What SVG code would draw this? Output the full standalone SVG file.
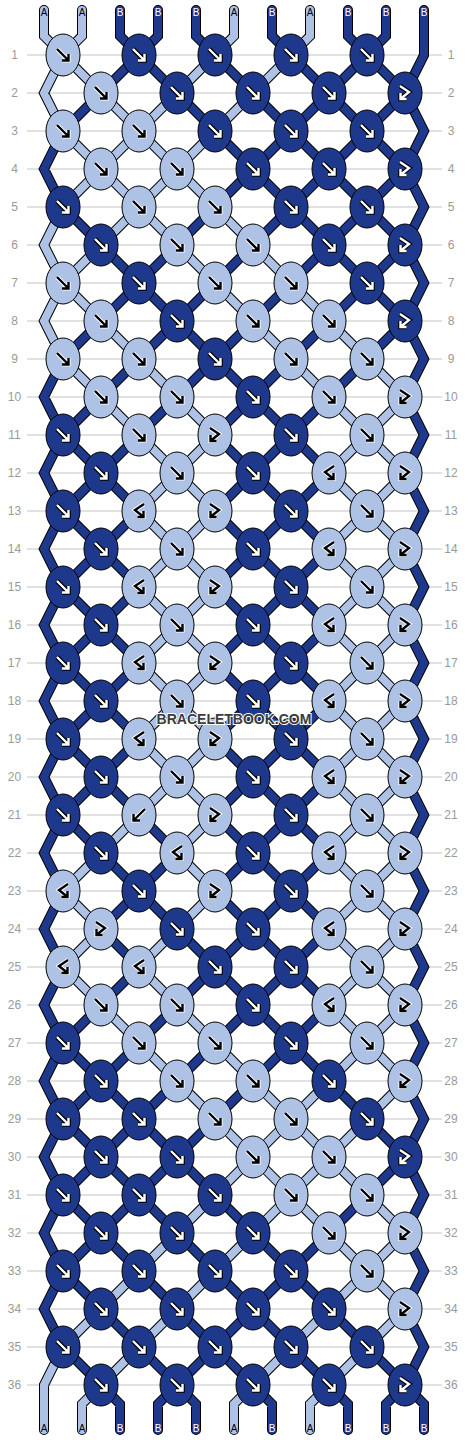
<svg xmlns="http://www.w3.org/2000/svg" xmlns:xlink="http://www.w3.org/1999/xlink" width="468" height="1440" viewBox="0 0 468 1440">
<style>
.grid{stroke:#c4c4c4;stroke-width:1}
.num{font-family:"Liberation Sans",Arial,sans-serif;font-size:12px;fill:#9a9a9a;text-anchor:middle}
.so{fill:none;stroke:#000;stroke-width:10;stroke-linejoin:miter;stroke-linecap:round}
.sa{fill:none;stroke:#AEC2E6;stroke-width:8;stroke-linejoin:miter;stroke-linecap:round}
.sb{fill:none;stroke:#1E398C;stroke-width:8;stroke-linejoin:miter;stroke-linecap:round}
.el{fill:#AEC2E6;stroke:#000;stroke-width:1}
.ed{fill:#1E398C;stroke:#000;stroke-width:1}
.hw{fill:none;stroke:#fff;stroke-width:4.2;stroke-linejoin:miter}
.ab{fill:none;stroke:#000;stroke-width:2.4;stroke-linejoin:miter}
.hb{fill:none;stroke:#000;stroke-width:4.6;stroke-linejoin:miter}
.aw{fill:none;stroke:#fff;stroke-width:2.4;stroke-linejoin:miter}
.lbl{font-family:"Liberation Sans",Arial,sans-serif;font-size:10px;text-anchor:middle}
.la{fill:#000}
.lb{fill:#fff}
.wm{font-family:"Liberation Sans",Arial,sans-serif;font-size:14px;font-weight:bold;fill:#3c3c3c;stroke:#fff;stroke-width:2;paint-order:stroke;text-anchor:middle}
</style>
<defs>
<ellipse id="eL" rx="17" ry="21" class="el"/>
<ellipse id="eD" rx="17" ry="21" class="ed"/>
<path id="aF" d="M-6,-6L5,5M5.5,-1V5.5H-1"/>
<path id="aB" d="M6,-6L-5,5M-5.5,-1V5.5H1"/>
<path id="aFB" d="M-5,-7L4,-1L-4,5.5M-4.5,0V6H1.5"/>
<path id="aBF" d="M5,-7L-4,-1L4,5.5M4.5,0V6H-1.5"/>
<g id="LF"><use href="#eL"/><use href="#aF" class="hw"/><use href="#aF" class="ab"/></g>
<g id="LB"><use href="#eL"/><use href="#aB" class="hw"/><use href="#aB" class="ab"/></g>
<g id="LFB"><use href="#eL"/><use href="#aFB" class="hw"/><use href="#aFB" class="ab"/></g>
<g id="LBF"><use href="#eL"/><use href="#aBF" class="hw"/><use href="#aBF" class="ab"/></g>
<g id="DF"><use href="#eD"/><use href="#aF" class="hb"/><use href="#aF" class="aw"/></g>
<g id="DFB"><use href="#eD"/><use href="#aFB" class="hb"/><use href="#aFB" class="aw"/></g>
<path id="PA" d="M44,10V36L63,55M82,10V36L63,55M234,10V36L215,55M310,10V36L291,55
M63,55L44,93L63,131M63,207L44,245L63,283L44,321L63,359M63,1347L44,1385V1430
M101,1385L82,1404V1430M253,1385L234,1404V1430M329,1385L310,1404V1430
M63,55l38,38M177,93l38,-38M253,93l38,-38
M101,93l38,38l38,-38M215,131l38,-38
M63,131l38,38l38,-38l38,38l38,-38
M63,207l38,-38l38,38l38,-38l38,38
M101,245l38,-38l38,38M215,207l38,38
M63,283l38,-38M177,245l38,38M253,245l38,38
M63,283l38,38M215,283l38,38M291,283l38,38
M101,321l38,38M253,321l38,38M329,321l38,38
M63,359l38,38M139,359l38,38M291,359l38,38M367,359l38,38
M101,397l38,38M177,397l38,38M329,397l38,38l38,-38
M139,435l38,38l38,-38M329,473l38,-38l38,38
M139,511l38,-38l38,38M329,473l38,38l38,-38
M139,511l38,38l38,-38M329,549l38,-38l38,38
M139,587l38,-38l38,38M329,549l38,38l38,-38
M139,587l38,38l38,-38M329,625l38,-38l38,38
M139,663l38,-38l38,38M329,625l38,38l38,-38
M139,663l38,38l38,-38M329,701l38,-38l38,38
M139,739l38,-38l38,38M329,701l38,38l38,-38
M139,739l38,38l38,-38M329,777l38,-38l38,38
M139,815l38,-38l38,38M329,777l38,38l38,-38
M101,853l38,-38M177,853l38,-38M329,853l38,-38l38,38
M63,891l38,-38M177,853l38,38M329,853l38,38l38,-38
M63,891l38,38M177,929l38,-38M329,929l38,-38l38,38
M63,967l38,-38M139,967l38,-38M329,929l38,38l38,-38
M63,967l38,38M139,967l38,38M329,1005l38,-38l38,38
M101,1005l38,38M177,1005l38,38M329,1005l38,38l38,-38
M139,1043l38,38M215,1043l38,38M329,1081l38,-38l38,38
M177,1081l38,38M253,1081l38,38l38,-38M367,1119l38,-38
M215,1119l38,38l38,-38l38,38l38,-38
M215,1195l38,-38l38,38l38,-38l38,38
M177,1233l38,-38M253,1233l38,-38l38,38M367,1195l38,38
M139,1271l38,-38M215,1271l38,-38M329,1233l38,38l38,-38
M101,1309l38,-38M177,1309l38,-38M329,1309l38,-38l38,38
M63,1347l38,-38M139,1347l38,-38M291,1347l38,-38M367,1347l38,-38
M101,1385l38,-38M253,1385l38,-38M329,1385l38,-38"/>
<path id="PB" d="M120,10V36L139,55M158,10V36L139,55M196,10V36L215,55M272,10V36L291,55M348,10V36L367,55M386,10V36L367,55
M424,10V55L405,93L424,131L405,169L424,207L405,245L424,283L405,321L424,359L405,397L424,435L405,473L424,511L405,549L424,587L405,625L424,663L405,701L424,739L405,777L424,815L405,853L424,891L405,929L424,967L405,1005L424,1043L405,1081L424,1119L405,1157L424,1195L405,1233L424,1271L405,1309L424,1347L405,1385L424,1404V1430
M63,131L44,169L63,207
M63,359L44,397L63,435L44,473L63,511L44,549L63,587L44,625L63,663L44,701L63,739L44,777L63,815L44,853L63,891L44,929L63,967L44,1005L63,1043L44,1081L63,1119L44,1157L63,1195L44,1233L63,1271L44,1309L63,1347
M101,1385L120,1404V1430M177,1385L158,1404V1430M177,1385L196,1404V1430M253,1385L272,1404V1430M329,1385L348,1404V1430M405,1385L386,1404V1430
M101,93l38,-38l38,38M215,55l38,38M291,55l38,38l38,-38l38,38
M63,131l38,-38M177,93l38,38M253,93l38,38l38,-38l38,38l38,-38
M215,131l38,38l38,-38l38,38l38,-38l38,38
M215,207l38,-38l38,38l38,-38l38,38l38,-38
M63,207l38,38M177,245l38,-38M253,245l38,-38l38,38l38,-38l38,38
M101,245l38,38l38,-38M215,283l38,-38M291,283l38,-38l38,38l38,-38
M101,321l38,-38l38,38l38,-38M253,321l38,-38M329,321l38,-38l38,38
M63,359l38,-38M139,359l38,-38l38,38l38,-38M291,359l38,-38M367,359l38,-38
M101,397l38,-38M177,397l38,-38l38,38l38,-38M329,397l38,-38
M63,435l38,-38M139,435l38,-38M215,435l38,-38l38,38l38,-38
M63,435l38,38l38,-38M215,435l38,38l38,-38l38,38
M63,511l38,-38l38,38M215,511l38,-38l38,38l38,-38
M63,511l38,38l38,-38M215,511l38,38l38,-38l38,38
M63,587l38,-38l38,38M215,587l38,-38l38,38l38,-38
M63,587l38,38l38,-38M215,587l38,38l38,-38l38,38
M63,663l38,-38l38,38M215,663l38,-38l38,38l38,-38
M63,663l38,38l38,-38M215,663l38,38l38,-38l38,38
M63,739l38,-38l38,38M215,739l38,-38l38,38l38,-38
M63,739l38,38l38,-38M215,739l38,38l38,-38l38,38
M63,815l38,-38l38,38M215,815l38,-38l38,38l38,-38
M63,815l38,38M139,815l38,38M215,815l38,38l38,-38l38,38
M101,853l38,38l38,-38M215,891l38,-38l38,38l38,-38
M101,929l38,-38l38,38M215,891l38,38l38,-38l38,38
M101,929l38,38M177,929l38,38l38,-38l38,38l38,-38
M101,1005l38,-38M177,1005l38,-38l38,38l38,-38l38,38
M63,1043l38,-38M139,1043l38,-38M215,1043l38,-38l38,38l38,-38
M63,1043l38,38l38,-38M177,1081l38,-38M253,1081l38,-38l38,38
M63,1119l38,-38l38,38l38,-38M215,1119l38,-38M329,1081l38,38
M63,1119l38,38l38,-38l38,38l38,-38M367,1119l38,38
M63,1195l38,-38l38,38l38,-38l38,38M367,1195l38,-38
M63,1195l38,38l38,-38l38,38M215,1195l38,38M329,1233l38,-38
M63,1271l38,-38l38,38M177,1233l38,38M253,1233l38,38l38,-38
M63,1271l38,38M139,1271l38,38M215,1271l38,38l38,-38l38,38
M101,1309l38,38M177,1309l38,38l38,-38l38,38M329,1309l38,38
M63,1347l38,38M139,1347l38,38l38,-38l38,38M291,1347l38,38M367,1347l38,38"/>
</defs>
<rect width="468" height="1440" fill="#fff"/>
<g id="grid" class="grid">
<line x1="27" y1="55" x2="442" y2="55"/><line x1="27" y1="93" x2="442" y2="93"/><line x1="27" y1="131" x2="442" y2="131"/><line x1="27" y1="169" x2="442" y2="169"/><line x1="27" y1="207" x2="442" y2="207"/><line x1="27" y1="245" x2="442" y2="245"/><line x1="27" y1="283" x2="442" y2="283"/><line x1="27" y1="321" x2="442" y2="321"/><line x1="27" y1="359" x2="442" y2="359"/><line x1="27" y1="397" x2="442" y2="397"/><line x1="27" y1="435" x2="442" y2="435"/><line x1="27" y1="473" x2="442" y2="473"/><line x1="27" y1="511" x2="442" y2="511"/><line x1="27" y1="549" x2="442" y2="549"/><line x1="27" y1="587" x2="442" y2="587"/><line x1="27" y1="625" x2="442" y2="625"/><line x1="27" y1="663" x2="442" y2="663"/><line x1="27" y1="701" x2="442" y2="701"/><line x1="27" y1="739" x2="442" y2="739"/><line x1="27" y1="777" x2="442" y2="777"/><line x1="27" y1="815" x2="442" y2="815"/><line x1="27" y1="853" x2="442" y2="853"/><line x1="27" y1="891" x2="442" y2="891"/><line x1="27" y1="929" x2="442" y2="929"/><line x1="27" y1="967" x2="442" y2="967"/><line x1="27" y1="1005" x2="442" y2="1005"/><line x1="27" y1="1043" x2="442" y2="1043"/><line x1="27" y1="1081" x2="442" y2="1081"/><line x1="27" y1="1119" x2="442" y2="1119"/><line x1="27" y1="1157" x2="442" y2="1157"/><line x1="27" y1="1195" x2="442" y2="1195"/><line x1="27" y1="1233" x2="442" y2="1233"/><line x1="27" y1="1271" x2="442" y2="1271"/><line x1="27" y1="1309" x2="442" y2="1309"/><line x1="27" y1="1347" x2="442" y2="1347"/><line x1="27" y1="1385" x2="442" y2="1385"/>
</g>
<g id="rownums" class="num">
<text x="14.5" y="59">1</text><text x="451" y="59">1</text>
<text x="14.5" y="97">2</text><text x="451" y="97">2</text>
<text x="14.5" y="135">3</text><text x="451" y="135">3</text>
<text x="14.5" y="173">4</text><text x="451" y="173">4</text>
<text x="14.5" y="211">5</text><text x="451" y="211">5</text>
<text x="14.5" y="249">6</text><text x="451" y="249">6</text>
<text x="14.5" y="287">7</text><text x="451" y="287">7</text>
<text x="14.5" y="325">8</text><text x="451" y="325">8</text>
<text x="14.5" y="363">9</text><text x="451" y="363">9</text>
<text x="14.5" y="401">10</text><text x="451" y="401">10</text>
<text x="14.5" y="439">11</text><text x="451" y="439">11</text>
<text x="14.5" y="477">12</text><text x="451" y="477">12</text>
<text x="14.5" y="515">13</text><text x="451" y="515">13</text>
<text x="14.5" y="553">14</text><text x="451" y="553">14</text>
<text x="14.5" y="591">15</text><text x="451" y="591">15</text>
<text x="14.5" y="629">16</text><text x="451" y="629">16</text>
<text x="14.5" y="667">17</text><text x="451" y="667">17</text>
<text x="14.5" y="705">18</text><text x="451" y="705">18</text>
<text x="14.5" y="743">19</text><text x="451" y="743">19</text>
<text x="14.5" y="781">20</text><text x="451" y="781">20</text>
<text x="14.5" y="819">21</text><text x="451" y="819">21</text>
<text x="14.5" y="857">22</text><text x="451" y="857">22</text>
<text x="14.5" y="895">23</text><text x="451" y="895">23</text>
<text x="14.5" y="933">24</text><text x="451" y="933">24</text>
<text x="14.5" y="971">25</text><text x="451" y="971">25</text>
<text x="14.5" y="1009">26</text><text x="451" y="1009">26</text>
<text x="14.5" y="1047">27</text><text x="451" y="1047">27</text>
<text x="14.5" y="1085">28</text><text x="451" y="1085">28</text>
<text x="14.5" y="1123">29</text><text x="451" y="1123">29</text>
<text x="14.5" y="1161">30</text><text x="451" y="1161">30</text>
<text x="14.5" y="1199">31</text><text x="451" y="1199">31</text>
<text x="14.5" y="1237">32</text><text x="451" y="1237">32</text>
<text x="14.5" y="1275">33</text><text x="451" y="1275">33</text>
<text x="14.5" y="1313">34</text><text x="451" y="1313">34</text>
<text x="14.5" y="1351">35</text><text x="451" y="1351">35</text>
<text x="14.5" y="1389">36</text><text x="451" y="1389">36</text>
</g>
<g id="connectors">
<use href="#PA" class="so"/><use href="#PB" class="so"/>
<use href="#PA" class="sa"/><use href="#PB" class="sb"/>
</g>
<g id="string-labels" class="lbl">
<text class="la" x="44" y="16">A</text><text class="la" x="82" y="16">A</text><text class="lb" x="120" y="16">B</text><text class="lb" x="158" y="16">B</text><text class="lb" x="196" y="16">B</text><text class="la" x="234" y="16">A</text><text class="lb" x="272" y="16">B</text><text class="la" x="310" y="16">A</text><text class="lb" x="348" y="16">B</text><text class="lb" x="386" y="16">B</text><text class="lb" x="424" y="16">B</text>
<text class="la" x="44" y="1432">A</text><text class="la" x="82" y="1432">A</text><text class="lb" x="120" y="1432">B</text><text class="lb" x="158" y="1432">B</text><text class="lb" x="196" y="1432">B</text><text class="la" x="234" y="1432">A</text><text class="lb" x="272" y="1432">B</text><text class="la" x="310" y="1432">A</text><text class="lb" x="348" y="1432">B</text><text class="lb" x="386" y="1432">B</text><text class="lb" x="424" y="1432">B</text>
</g>
<g id="knots">
<g id="k1-1"><use href="#LF" x="63" y="55"/></g><g id="k1-2"><use href="#DF" x="139" y="55"/></g><g id="k1-3"><use href="#DF" x="215" y="55"/></g><g id="k1-4"><use href="#DF" x="291" y="55"/></g><g id="k1-5"><use href="#DF" x="367" y="55"/></g>
<g id="k2-1"><use href="#LF" x="101" y="93"/></g><g id="k2-2"><use href="#DF" x="177" y="93"/></g><g id="k2-3"><use href="#DF" x="253" y="93"/></g><g id="k2-4"><use href="#DF" x="329" y="93"/></g><g id="k2-5"><use href="#DFB" x="405" y="93"/></g>
<g id="k3-1"><use href="#LF" x="63" y="131"/></g><g id="k3-2"><use href="#LF" x="139" y="131"/></g><g id="k3-3"><use href="#DF" x="215" y="131"/></g><g id="k3-4"><use href="#DF" x="291" y="131"/></g><g id="k3-5"><use href="#DF" x="367" y="131"/></g>
<g id="k4-1"><use href="#LF" x="101" y="169"/></g><g id="k4-2"><use href="#LF" x="177" y="169"/></g><g id="k4-3"><use href="#DF" x="253" y="169"/></g><g id="k4-4"><use href="#DF" x="329" y="169"/></g><g id="k4-5"><use href="#DFB" x="405" y="169"/></g>
<g id="k5-1"><use href="#DF" x="63" y="207"/></g><g id="k5-2"><use href="#LF" x="139" y="207"/></g><g id="k5-3"><use href="#LF" x="215" y="207"/></g><g id="k5-4"><use href="#DF" x="291" y="207"/></g><g id="k5-5"><use href="#DF" x="367" y="207"/></g>
<g id="k6-1"><use href="#DF" x="101" y="245"/></g><g id="k6-2"><use href="#LF" x="177" y="245"/></g><g id="k6-3"><use href="#LF" x="253" y="245"/></g><g id="k6-4"><use href="#DF" x="329" y="245"/></g><g id="k6-5"><use href="#DFB" x="405" y="245"/></g>
<g id="k7-1"><use href="#LF" x="63" y="283"/></g><g id="k7-2"><use href="#DF" x="139" y="283"/></g><g id="k7-3"><use href="#LF" x="215" y="283"/></g><g id="k7-4"><use href="#LF" x="291" y="283"/></g><g id="k7-5"><use href="#DF" x="367" y="283"/></g>
<g id="k8-1"><use href="#LF" x="101" y="321"/></g><g id="k8-2"><use href="#DF" x="177" y="321"/></g><g id="k8-3"><use href="#LF" x="253" y="321"/></g><g id="k8-4"><use href="#LF" x="329" y="321"/></g><g id="k8-5"><use href="#DFB" x="405" y="321"/></g>
<g id="k9-1"><use href="#LF" x="63" y="359"/></g><g id="k9-2"><use href="#LF" x="139" y="359"/></g><g id="k9-3"><use href="#DF" x="215" y="359"/></g><g id="k9-4"><use href="#LF" x="291" y="359"/></g><g id="k9-5"><use href="#LF" x="367" y="359"/></g>
<g id="k10-1"><use href="#LF" x="101" y="397"/></g><g id="k10-2"><use href="#LF" x="177" y="397"/></g><g id="k10-3"><use href="#DF" x="253" y="397"/></g><g id="k10-4"><use href="#LF" x="329" y="397"/></g><g id="k10-5"><use href="#LFB" x="405" y="397"/></g>
<g id="k11-1"><use href="#DF" x="63" y="435"/></g><g id="k11-2"><use href="#LF" x="139" y="435"/></g><g id="k11-3"><use href="#LFB" x="215" y="435"/></g><g id="k11-4"><use href="#DF" x="291" y="435"/></g><g id="k11-5"><use href="#LF" x="367" y="435"/></g>
<g id="k12-1"><use href="#DF" x="101" y="473"/></g><g id="k12-2"><use href="#LF" x="177" y="473"/></g><g id="k12-3"><use href="#DF" x="253" y="473"/></g><g id="k12-4"><use href="#LBF" x="329" y="473"/></g><g id="k12-5"><use href="#LFB" x="405" y="473"/></g>
<g id="k13-1"><use href="#DF" x="63" y="511"/></g><g id="k13-2"><use href="#LBF" x="139" y="511"/></g><g id="k13-3"><use href="#LFB" x="215" y="511"/></g><g id="k13-4"><use href="#DF" x="291" y="511"/></g><g id="k13-5"><use href="#LF" x="367" y="511"/></g>
<g id="k14-1"><use href="#DF" x="101" y="549"/></g><g id="k14-2"><use href="#LF" x="177" y="549"/></g><g id="k14-3"><use href="#DF" x="253" y="549"/></g><g id="k14-4"><use href="#LBF" x="329" y="549"/></g><g id="k14-5"><use href="#LFB" x="405" y="549"/></g>
<g id="k15-1"><use href="#DF" x="63" y="587"/></g><g id="k15-2"><use href="#LBF" x="139" y="587"/></g><g id="k15-3"><use href="#LFB" x="215" y="587"/></g><g id="k15-4"><use href="#DF" x="291" y="587"/></g><g id="k15-5"><use href="#LF" x="367" y="587"/></g>
<g id="k16-1"><use href="#DF" x="101" y="625"/></g><g id="k16-2"><use href="#LF" x="177" y="625"/></g><g id="k16-3"><use href="#DF" x="253" y="625"/></g><g id="k16-4"><use href="#LBF" x="329" y="625"/></g><g id="k16-5"><use href="#LFB" x="405" y="625"/></g>
<g id="k17-1"><use href="#DF" x="63" y="663"/></g><g id="k17-2"><use href="#LBF" x="139" y="663"/></g><g id="k17-3"><use href="#LFB" x="215" y="663"/></g><g id="k17-4"><use href="#DF" x="291" y="663"/></g><g id="k17-5"><use href="#LF" x="367" y="663"/></g>
<g id="k18-1"><use href="#DF" x="101" y="701"/></g><g id="k18-2"><use href="#LF" x="177" y="701"/></g><g id="k18-3"><use href="#DF" x="253" y="701"/></g><g id="k18-4"><use href="#LBF" x="329" y="701"/></g><g id="k18-5"><use href="#LFB" x="405" y="701"/></g>
<g id="k19-1"><use href="#DF" x="63" y="739"/></g><g id="k19-2"><use href="#LBF" x="139" y="739"/></g><g id="k19-3"><use href="#LFB" x="215" y="739"/></g><g id="k19-4"><use href="#DF" x="291" y="739"/></g><g id="k19-5"><use href="#LF" x="367" y="739"/></g>
<g id="k20-1"><use href="#DF" x="101" y="777"/></g><g id="k20-2"><use href="#LF" x="177" y="777"/></g><g id="k20-3"><use href="#DF" x="253" y="777"/></g><g id="k20-4"><use href="#LBF" x="329" y="777"/></g><g id="k20-5"><use href="#LFB" x="405" y="777"/></g>
<g id="k21-1"><use href="#DF" x="63" y="815"/></g><g id="k21-2"><use href="#LB" x="139" y="815"/></g><g id="k21-3"><use href="#LFB" x="215" y="815"/></g><g id="k21-4"><use href="#DF" x="291" y="815"/></g><g id="k21-5"><use href="#LF" x="367" y="815"/></g>
<g id="k22-1"><use href="#DF" x="101" y="853"/></g><g id="k22-2"><use href="#LBF" x="177" y="853"/></g><g id="k22-3"><use href="#DF" x="253" y="853"/></g><g id="k22-4"><use href="#LBF" x="329" y="853"/></g><g id="k22-5"><use href="#LFB" x="405" y="853"/></g>
<g id="k23-1"><use href="#LBF" x="63" y="891"/></g><g id="k23-2"><use href="#DF" x="139" y="891"/></g><g id="k23-3"><use href="#LFB" x="215" y="891"/></g><g id="k23-4"><use href="#DF" x="291" y="891"/></g><g id="k23-5"><use href="#LF" x="367" y="891"/></g>
<g id="k24-1"><use href="#LFB" x="101" y="929"/></g><g id="k24-2"><use href="#DF" x="177" y="929"/></g><g id="k24-3"><use href="#DF" x="253" y="929"/></g><g id="k24-4"><use href="#LBF" x="329" y="929"/></g><g id="k24-5"><use href="#LFB" x="405" y="929"/></g>
<g id="k25-1"><use href="#LBF" x="63" y="967"/></g><g id="k25-2"><use href="#LBF" x="139" y="967"/></g><g id="k25-3"><use href="#DF" x="215" y="967"/></g><g id="k25-4"><use href="#DF" x="291" y="967"/></g><g id="k25-5"><use href="#LF" x="367" y="967"/></g>
<g id="k26-1"><use href="#LF" x="101" y="1005"/></g><g id="k26-2"><use href="#LF" x="177" y="1005"/></g><g id="k26-3"><use href="#DF" x="253" y="1005"/></g><g id="k26-4"><use href="#LBF" x="329" y="1005"/></g><g id="k26-5"><use href="#LFB" x="405" y="1005"/></g>
<g id="k27-1"><use href="#DF" x="63" y="1043"/></g><g id="k27-2"><use href="#LF" x="139" y="1043"/></g><g id="k27-3"><use href="#LF" x="215" y="1043"/></g><g id="k27-4"><use href="#DF" x="291" y="1043"/></g><g id="k27-5"><use href="#LF" x="367" y="1043"/></g>
<g id="k28-1"><use href="#DF" x="101" y="1081"/></g><g id="k28-2"><use href="#LF" x="177" y="1081"/></g><g id="k28-3"><use href="#LF" x="253" y="1081"/></g><g id="k28-4"><use href="#DF" x="329" y="1081"/></g><g id="k28-5"><use href="#LFB" x="405" y="1081"/></g>
<g id="k29-1"><use href="#DF" x="63" y="1119"/></g><g id="k29-2"><use href="#DF" x="139" y="1119"/></g><g id="k29-3"><use href="#LF" x="215" y="1119"/></g><g id="k29-4"><use href="#LF" x="291" y="1119"/></g><g id="k29-5"><use href="#DF" x="367" y="1119"/></g>
<g id="k30-1"><use href="#DF" x="101" y="1157"/></g><g id="k30-2"><use href="#DF" x="177" y="1157"/></g><g id="k30-3"><use href="#LF" x="253" y="1157"/></g><g id="k30-4"><use href="#LF" x="329" y="1157"/></g><g id="k30-5"><use href="#DFB" x="405" y="1157"/></g>
<g id="k31-1"><use href="#DF" x="63" y="1195"/></g><g id="k31-2"><use href="#DF" x="139" y="1195"/></g><g id="k31-3"><use href="#DF" x="215" y="1195"/></g><g id="k31-4"><use href="#LF" x="291" y="1195"/></g><g id="k31-5"><use href="#LF" x="367" y="1195"/></g>
<g id="k32-1"><use href="#DF" x="101" y="1233"/></g><g id="k32-2"><use href="#DF" x="177" y="1233"/></g><g id="k32-3"><use href="#DF" x="253" y="1233"/></g><g id="k32-4"><use href="#LF" x="329" y="1233"/></g><g id="k32-5"><use href="#LFB" x="405" y="1233"/></g>
<g id="k33-1"><use href="#DF" x="63" y="1271"/></g><g id="k33-2"><use href="#DF" x="139" y="1271"/></g><g id="k33-3"><use href="#DF" x="215" y="1271"/></g><g id="k33-4"><use href="#DF" x="291" y="1271"/></g><g id="k33-5"><use href="#LF" x="367" y="1271"/></g>
<g id="k34-1"><use href="#DF" x="101" y="1309"/></g><g id="k34-2"><use href="#DF" x="177" y="1309"/></g><g id="k34-3"><use href="#DF" x="253" y="1309"/></g><g id="k34-4"><use href="#DF" x="329" y="1309"/></g><g id="k34-5"><use href="#LFB" x="405" y="1309"/></g>
<g id="k35-1"><use href="#DF" x="63" y="1347"/></g><g id="k35-2"><use href="#DF" x="139" y="1347"/></g><g id="k35-3"><use href="#DF" x="215" y="1347"/></g><g id="k35-4"><use href="#DF" x="291" y="1347"/></g><g id="k35-5"><use href="#DF" x="367" y="1347"/></g>
<g id="k36-1"><use href="#DF" x="101" y="1385"/></g><g id="k36-2"><use href="#DF" x="177" y="1385"/></g><g id="k36-3"><use href="#DF" x="253" y="1385"/></g><g id="k36-4"><use href="#DF" x="329" y="1385"/></g><g id="k36-5"><use href="#DFB" x="405" y="1385"/></g>
</g>
<text class="wm" x="234" y="724">BRACELETBOOK.COM</text>
</svg>
